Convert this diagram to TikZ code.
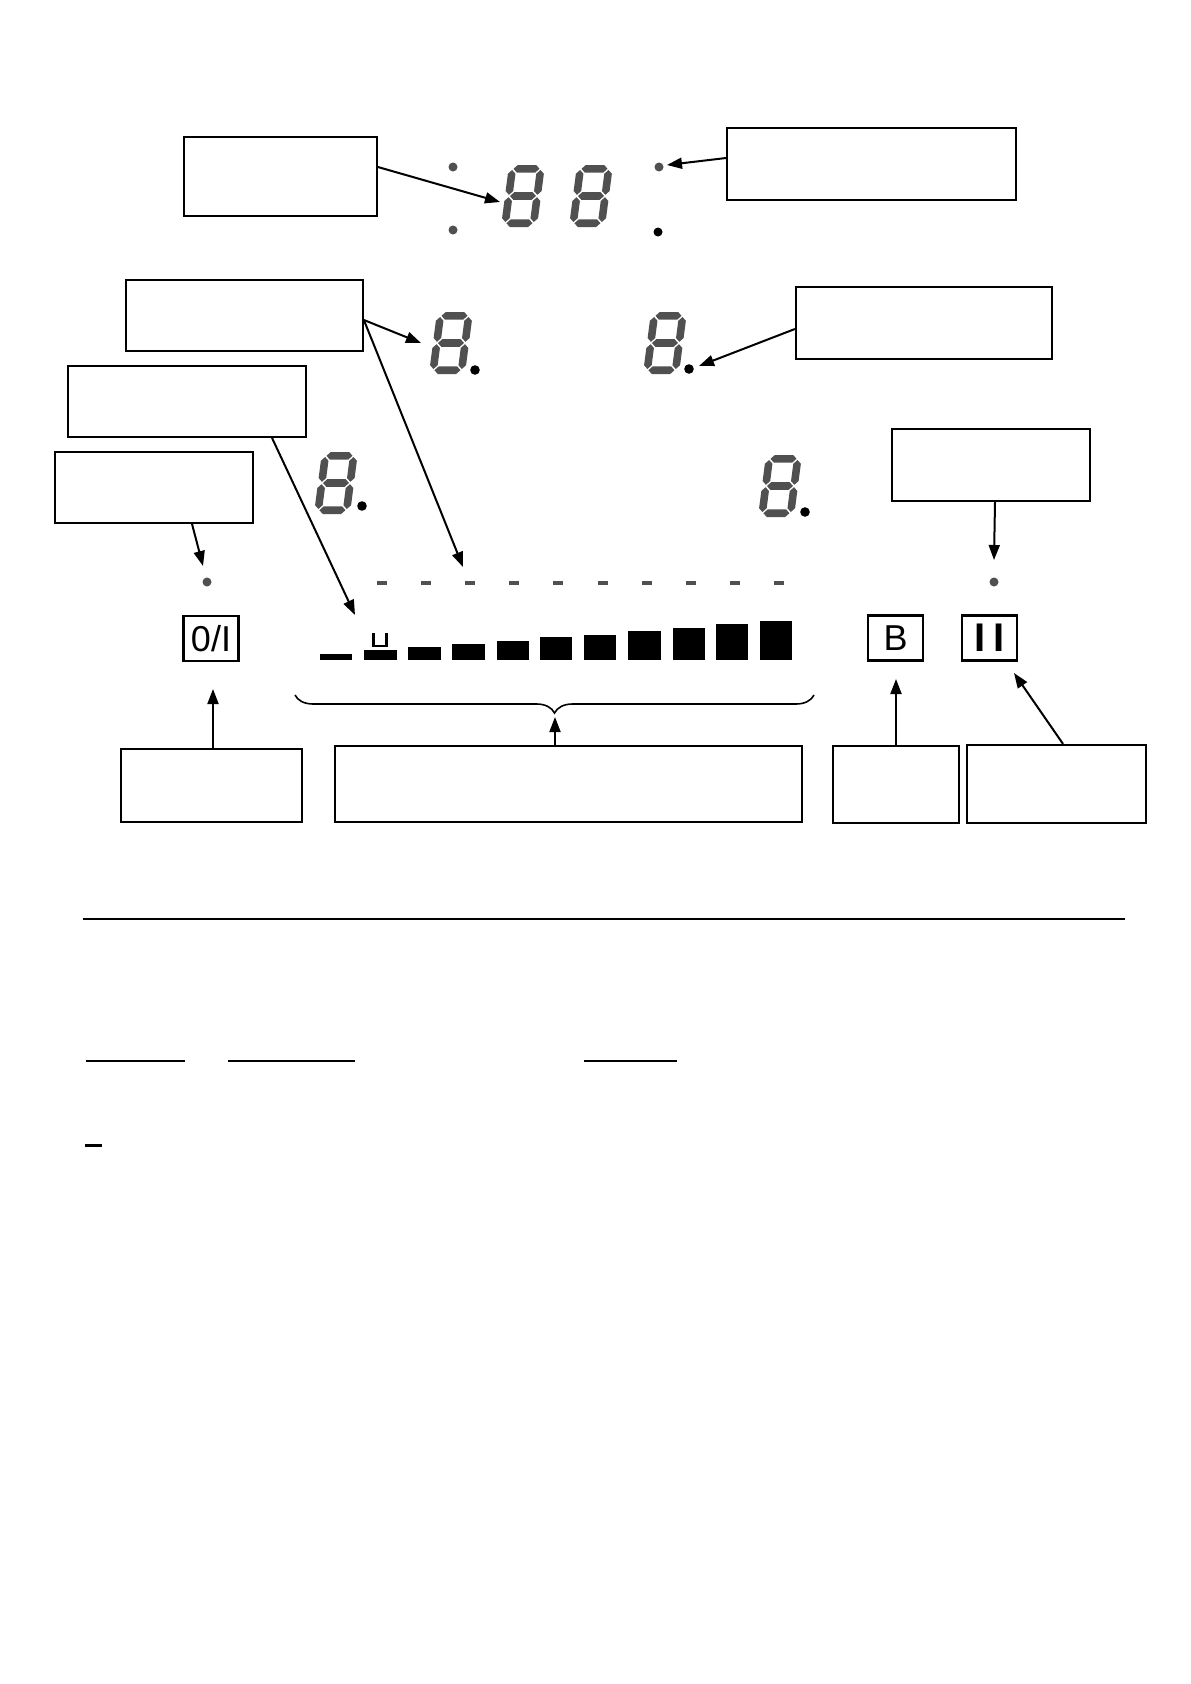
\documentclass[tikz,border=0pt]{standalone}
\usepackage{fontspec}
\setsansfont{Liberation Sans}
\usetikzlibrary{arrows.meta,decorations.pathreplacing}
\definecolor{segcol}{HTML}{505050}
\newcommand{\sgH}[3]{\fill[segcol] (#1,#3) -- ({#1+3.8},{#3-3.8}) -- ({#2-3.8},{#3-3.8}) -- (#2,#3) -- ({#2-3.8},{#3+3.8}) -- ({#1+3.8},{#3+3.8}) -- cycle;}
\newcommand{\sgV}[3]{\fill[segcol] (#1,#2) -- ({#1+3.8},{#2+3.8}) -- ({#1+3.8},{#3-3.8}) -- (#1,#3) -- ({#1-3.8},{#3-3.8}) -- ({#1-3.8},{#2+3.8}) -- cycle;}
\tikzset{
  pics/sevenseg/.style={code={
    \begin{scope}[xslant=0.13]
      \sgH{5}{31}{3.8}
      \sgH{5}{31}{31}
      \sgH{5}{31}{58.2}
      \sgV{3.8}{5}{29.8}
      \sgV{3.8}{32.2}{57}
      \sgV{32.2}{5}{29.8}
      \sgV{32.2}{32.2}{57}
    \end{scope}
  }},
  lbox/.style={draw, line width=1.8, inner sep=0pt},
  btn/.style={draw, line width=2.8, inner sep=0pt, minimum width=55, minimum height=45, font=\sffamily\fontsize{36}{40}\selectfont},
  arr/.style={line width=2, -{Triangle[length=15pt,width=11pt]}},
  gdot/.style={fill=segcol},
  bdot/.style={fill=black},
  dashseg/.style={fill=segcol},
  bar/.style={fill=black}
}
\begin{document}
\begin{tikzpicture}[x=1pt,y=-1pt]
\useasboundingbox (0,0) rectangle (1191,1684);

% label boxes
\node[lbox, minimum width=193, minimum height=79] (A) at (280.5,176.5) {};
\node[lbox, minimum width=289, minimum height=72] (B) at (871.5,164) {};
\node[lbox, minimum width=237, minimum height=71] (C) at (244.5,315.5) {};
\node[lbox, line width=2.2, minimum width=256, minimum height=72] (D) at (924,323) {};
\node[lbox, minimum width=238, minimum height=71] (E) at (187,401.5) {};
\node[lbox, minimum width=198, minimum height=71] (F) at (154,487.5) {};
\node[lbox, line width=2.2, minimum width=198, minimum height=72] (G) at (991,465) {};
\node[lbox, minimum width=181, minimum height=73] (H) at (211.5,785.5) {};
\node[lbox, minimum width=467, minimum height=76] (I) at (568.5,784) {};
\node[lbox, line width=2.2, minimum width=126, minimum height=77] (J) at (896,784.5) {};
\node[lbox, line width=2.2, minimum width=179, minimum height=78] (K) at (1056.5,784) {};

% seven segment digits
\pic at (509,165) {sevenseg};
\pic at (577,165) {sevenseg};
\pic at (437,312) {sevenseg};
\pic at (651,312) {sevenseg};
\pic at (322,452) {sevenseg};
\pic at (766,455) {sevenseg};

% colon dots
\fill[gdot] (453,167) circle (4.5);
\fill[gdot] (453,230) circle (4.5);
\fill[gdot] (659,167) circle (4.5);
\fill[bdot] (658,232) circle (4.5);
% decimal points
\fill[bdot] (475,370) circle (4.8);
\fill[bdot] (689,369) circle (4.8);
\fill[bdot] (362,506) circle (4.8);
\fill[bdot] (805,512) circle (4.8);
% indicator dots
\fill[gdot] (207,582) circle (4.5);
\fill[gdot] (994,582) circle (4.5);

% dashes
\foreach \i in {0,...,9} {
  \fill[dashseg] ({377+44.1*\i},581.2) rectangle ({387+44.1*\i},584.8);
}

% power level bars
\fill[bar] (320,654) rectangle (352,660);
\fill[bar] (364,650) rectangle (397,660);
\fill[bar] (408,647) rectangle (441,660);
\fill[bar] (452,644) rectangle (485,660);
\fill[bar] (497,641) rectangle (529,660);
\fill[bar] (540,637) rectangle (572,660);
\fill[bar] (584,635) rectangle (616,660);
\fill[bar] (628,631) rectangle (661,660);
\fill[bar] (673,628) rectangle (705,660);
\fill[bar] (716,624) rectangle (748,660);
\fill[bar] (760,621) rectangle (792,660);
\draw[line width=2.6] (373.5,633) -- (373.5,646) -- (386.5,646) -- (386.5,633);

% buttons
\node[btn] (onoff) at (211,638.5) {0/I};
\node[btn] (boost) at (895.5,638) {B};
\node[btn, font=\sffamily\bfseries\fontsize{40}{44}\selectfont] (pause) at (989.5,638) {I\kern7pt I};

% brace
\draw[line width=1.6, decorate, decoration={brace, mirror, amplitude=18pt}] (295,695) -- (814,695);

% arrow tip coordinates
\coordinate (tA) at (500,202);
\coordinate (tB) at (667,165);
\coordinate (tC1) at (421,343);
\coordinate (tC2) at (463,567);
\coordinate (tD) at (699,366);
\coordinate (tE) at (355,615);
\coordinate (tF) at (203,566);
\coordinate (tG) at (994,560);
\coordinate (tH) at (213,689);
\coordinate (tI) at (555,717);
\coordinate (tJ) at (896,679);
\coordinate (tK) at (1014,673);

% connectors
\draw[arr] ([yshift=9.5pt]A.east) -- (tA);
\draw[arr] ([yshift=6pt]B.west) -- (tB);
\draw[arr] ([yshift=-4.5pt]C.east) -- (tC1);
\draw[arr] ([yshift=-4.5pt]C.east) -- (tC2);
\draw[arr] ([yshift=-6pt]D.west) -- (tD);
\draw[arr] ([xshift=85pt]E.south) -- (tE);
\draw[arr] ([xshift=38pt]F.south) -- (tF);
\draw[arr] ([xshift=4pt]G.south) -- (tG);
\draw[arr] ([xshift=1.5pt]H.north) -- (tH);
\draw[arr] ([xshift=-13.5pt]I.north) -- (tI);
\draw[arr] (J.north) -- (tJ);
\draw[arr] ([xshift=6.5pt]K.north) -- (tK);

% separator and blank lines
\draw[line width=1.8] (83,919) -- (1125,919);
\draw[line width=1.6] (86,1061) -- (185,1061);
\draw[line width=1.6] (228,1061) -- (355,1061);
\draw[line width=1.6] (584,1061) -- (677,1061);
\draw[line width=3] (85,1145) -- (102,1145);
\end{tikzpicture}
\end{document}
